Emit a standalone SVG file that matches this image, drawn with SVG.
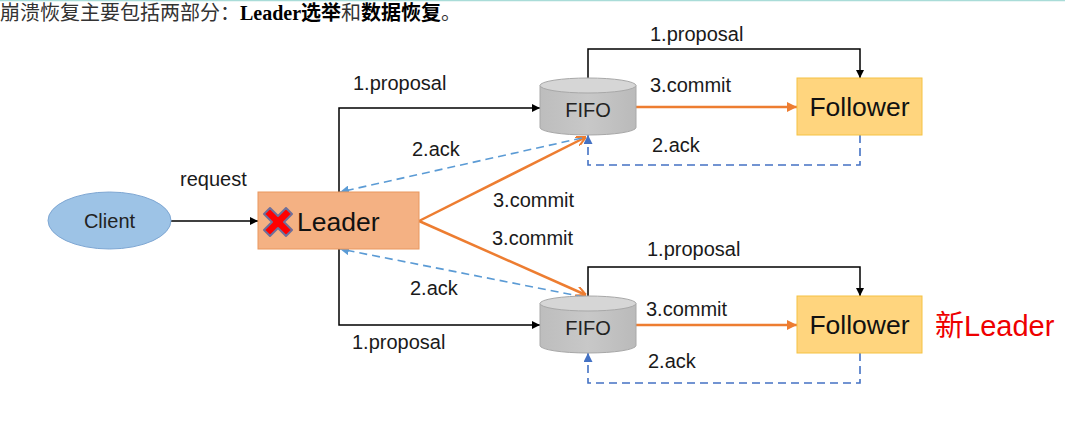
<svg xmlns="http://www.w3.org/2000/svg" width="1065" height="425" viewBox="0 0 1065 425">
<style>
.lbl{font-family:"Liberation Sans",Arial,sans-serif;font-size:20px;fill:#1a1a1a}
.big{font-family:"Liberation Sans",Arial,sans-serif;font-size:26.5px;fill:#111}
.mid{font-family:"Liberation Sans",Arial,sans-serif;font-size:20px;fill:#222}
.blk{fill:none;stroke:#000;stroke-width:1.5}
.org{fill:none;stroke:#ed7d31;stroke-width:2.5}
.dsh{fill:none;stroke:#4472c4;stroke-width:1.6;stroke-dasharray:8 5}
.dsl{fill:none;stroke:#5b9bd5;stroke-width:1.6;stroke-dasharray:8 5}
.cyl{fill:url(#cg);stroke:#a8a8a8;stroke-width:1}
.cyltop{fill:#d6d6d6;stroke:#a8a8a8;stroke-width:1}
.fol{fill:#ffd57e;stroke:#f5c242;stroke-width:1}
</style>
<defs>
<linearGradient id="cg" x1="0" y1="0" x2="1" y2="0">
<stop offset="0" stop-color="#bdbdbd"/><stop offset="0.5" stop-color="#c8c8c8"/><stop offset="1" stop-color="#bababa"/>
</linearGradient>
<marker id="ab" viewBox="0 0 10 10" refX="10" refY="5" markerWidth="8" markerHeight="8" markerUnits="userSpaceOnUse" orient="auto"><path d="M0,0L10,5L0,10z" fill="#000"/></marker>
<marker id="ao" viewBox="0 0 10 10" refX="10" refY="5" markerWidth="10" markerHeight="10" markerUnits="userSpaceOnUse" orient="auto"><path d="M0,0L10,5L0,10z" fill="#ed7d31"/></marker>
<marker id="aov" viewBox="0 0 10 10" refX="10" refY="5" markerWidth="10" markerHeight="10" markerUnits="userSpaceOnUse" orient="auto"><path d="M0,0L10,5L0,10" fill="none" stroke="#ed7d31" stroke-width="2"/></marker>
<marker id="adb" viewBox="0 0 10 10" refX="10" refY="5" markerWidth="9" markerHeight="9" markerUnits="userSpaceOnUse" orient="auto"><path d="M0,0L10,5L0,10z" fill="#4472c4"/></marker>
<marker id="adl" viewBox="0 0 10 10" refX="10" refY="5" markerWidth="9" markerHeight="9" markerUnits="userSpaceOnUse" orient="auto"><path d="M0,0L10,5L0,10z" fill="#5b9bd5"/></marker>
</defs>
<rect x="0" y="0" width="1065" height="425" fill="#fff"/>
<line x1="0" y1="0.5" x2="1065" y2="0.5" stroke="#a9dcd8" stroke-width="1.5"/>
<text x="0" y="20" style="font-family:'Liberation Serif','Noto Sans CJK SC',serif;font-size:20px;fill:#333">崩溃恢复主要包括两部分：<tspan font-weight="bold" fill="#000">Leader选举</tspan>和<tspan font-weight="bold" fill="#000">数据恢复</tspan>。</text>

<g id="connectors">
<path class="blk" d="M171,221H258" marker-end="url(#ab)"/>
<path class="blk" d="M339,192V108H540" marker-end="url(#ab)"/>
<path class="blk" d="M339,249V325H540" marker-end="url(#ab)"/>
<path class="blk" d="M588,78V49H860V78" marker-end="url(#ab)"/>
<path class="blk" d="M588,296V267H860V296" marker-end="url(#ab)"/>
<path class="org" d="M636,107H797" marker-end="url(#ao)"/>
<path class="org" d="M636,325H797" marker-end="url(#ao)"/>
<path class="org" d="M419,221L586,137" marker-end="url(#aov)"/>
<path class="org" d="M419,221L586,295" marker-end="url(#aov)"/>
<path class="dsh" d="M860,135V165H588V135" marker-end="url(#adb)"/>
<path class="dsh" d="M860,353V383H588V353" marker-end="url(#adb)"/>
<path class="dsl" d="M582,138L340,192" marker-end="url(#adl)"/>
<path class="dsl" d="M584,297L340,249" marker-end="url(#adl)"/>
<text class="lbl" x="180" y="186">request</text>
<text class="lbl" x="353" y="90">1.proposal</text>
<text class="lbl" x="352" y="349">1.proposal</text>
<text class="lbl" x="412" y="156">2.ack</text>
<text class="lbl" x="410" y="295">2.ack</text>
<text class="lbl" x="493" y="207">3.commit</text>
<text class="lbl" x="492" y="245">3.commit</text>
<text class="lbl" x="650" y="41">1.proposal</text>
<text class="lbl" x="650" y="92">3.commit</text>
<text class="lbl" x="652" y="152">2.ack</text>
<text class="lbl" x="647" y="256">1.proposal</text>
<text class="lbl" x="646" y="316">3.commit</text>
<text class="lbl" x="648" y="368">2.ack</text>
</g>

<g id="client">
<ellipse cx="109.5" cy="220.5" rx="61.5" ry="28.5" fill="#9dc3e6" stroke="#7fa7d3" stroke-width="1"/>
<text class="mid" x="109.5" y="227.5" text-anchor="middle">Client</text>
</g>

<g id="leader">
<rect x="258" y="192" width="161" height="57" fill="#f4b183" stroke="#e9975f" stroke-width="1"/>
<path d="M-14,-8L-8,-14L0,-6L8,-14L14,-8L6,0L14,8L8,14L0,6L-8,14L-14,8L-6,0z" transform="translate(278,222)" fill="#ff0000" stroke="#6f6f99" stroke-width="2" stroke-linejoin="round"/>
<text class="big" x="297" y="231">Leader</text>
</g>

<g id="fifo1">
<path class="cyl" d="M540,85.5V127.5A48,7.5 0 0 0 636,127.5V85.5"/>
<ellipse class="cyltop" cx="588" cy="85.5" rx="48" ry="7.5"/>
<text class="mid" x="588" y="117" text-anchor="middle">FIFO</text>
</g>

<g id="fifo2">
<path class="cyl" d="M540,303.5V345.5A48,7.5 0 0 0 636,345.5V303.5"/>
<ellipse class="cyltop" cx="588" cy="303.5" rx="48" ry="7.5"/>
<text class="mid" x="588" y="335" text-anchor="middle">FIFO</text>
</g>

<g id="follower1">
<rect class="fol" x="797" y="78" width="125" height="57"/>
<text class="big" x="859.5" y="116" text-anchor="middle">Follower</text>
</g>

<g id="follower2">
<rect class="fol" x="797" y="296" width="125" height="57"/>
<text class="big" x="859.5" y="334" text-anchor="middle">Follower</text>
<text x="935" y="336" style="font-family:'Liberation Sans','Noto Sans CJK SC',sans-serif;font-size:29px;fill:#ee0000">新Leader</text>
</g>
</svg>
